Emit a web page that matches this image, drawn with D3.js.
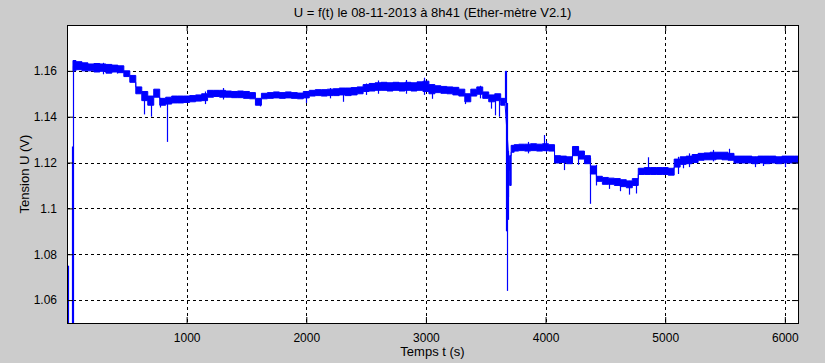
<!DOCTYPE html>
<html>
<head>
<meta charset="utf-8">
<script src="https://cdn.jsdelivr.net/npm/d3@7"></script>
<style>
  body { margin: 0; background: #cccccc; }
  text { font-family: "Liberation Sans", Arial, sans-serif; fill: #000; }
</style>
</head>
<body>
<div id="chart"></div>
<script>
// envelope of the noisy signal (min / max of U every 50 s)
var tBand = [50, 100, 150, 200, 250, 300, 350, 400, 450, 500, 550, 600, 650, 700, 750, 800, 850, 900, 950, 1000,
  1050, 1100, 1150, 1200, 1250, 1300, 1350, 1400, 1450, 1500, 1550, 1600, 1650, 1700, 1750, 1800, 1850, 1900, 1950, 2000,
  2050, 2100, 2150, 2200, 2250, 2300, 2350, 2400, 2450, 2500, 2550, 2600, 2650, 2700, 2750, 2800, 2850, 2900, 2950, 3000,
  3050, 3100, 3150, 3200, 3250, 3300, 3350, 3400, 3450, 3500, 3550, 3600, 3650, 3660];
var uLo = [1.1600, 1.1605, 1.1600, 1.1600, 1.1595, 1.1598, 1.1590, 1.1595, 1.1592, 1.1575, 1.1550, 1.1500, 1.1470, 1.1450, 1.1485, 1.1450, 1.1455, 1.1460, 1.1460, 1.1462,
  1.1465, 1.1468, 1.1470, 1.1485, 1.1488, 1.1485, 1.1485, 1.1483, 1.1483, 1.1480, 1.1478, 1.1450, 1.1478, 1.1480, 1.1482, 1.1480, 1.1482, 1.1480, 1.1478, 1.1482,
  1.1490, 1.1492, 1.1490, 1.1492, 1.1492, 1.1495, 1.1492, 1.1495, 1.1500, 1.1510, 1.1512, 1.1515, 1.1515, 1.1512, 1.1515, 1.1512, 1.1515, 1.1512, 1.1515, 1.1510,
  1.1500, 1.1505, 1.1502, 1.1500, 1.1495, 1.1490, 1.1465, 1.1490, 1.1498, 1.1480, 1.1465, 1.1470, 1.1450, 1.1450];
var uHi = [1.1645, 1.1640, 1.1635, 1.1630, 1.1632, 1.1630, 1.1628, 1.1625, 1.1622, 1.1600, 1.1580, 1.1530, 1.1510, 1.1490, 1.1520, 1.1480, 1.1485, 1.1490, 1.1490, 1.1490,
  1.1492, 1.1495, 1.1500, 1.1515, 1.1515, 1.1515, 1.1512, 1.1510, 1.1512, 1.1510, 1.1505, 1.1480, 1.1502, 1.1505, 1.1508, 1.1505, 1.1508, 1.1505, 1.1503, 1.1510,
  1.1515, 1.1518, 1.1518, 1.1520, 1.1522, 1.1525, 1.1525, 1.1527, 1.1530, 1.1540, 1.1545, 1.1548, 1.1550, 1.1548, 1.1550, 1.1548, 1.1550, 1.1548, 1.1552, 1.1555,
  1.1540, 1.1535, 1.1532, 1.1530, 1.1528, 1.1520, 1.1500, 1.1520, 1.1530, 1.1508, 1.1495, 1.1500, 1.1480, 1.1480];

// after the drop at ~3670 s
var tBand2 = [3700, 3725, 3750, 3800, 3850, 3900, 3950, 4000, 4050, 4100, 4150, 4200, 4250, 4300, 4350, 4400, 4450, 4500, 4550, 4600,
  4650, 4700, 4750, 4800, 4850, 4900, 4950, 5000, 5050, 5100, 5150, 5200, 5250, 5300, 5350, 5400, 5450, 5500, 5550, 5600,
  5650, 5700, 5750, 5800, 5850, 5900, 5950, 6000, 6050, 6110];
var uLo2 = [1.1100, 1.1245, 1.1250, 1.1252, 1.1250, 1.1252, 1.1250, 1.1252, 1.1250, 1.1198, 1.1200, 1.1195, 1.1230, 1.1215, 1.1195, 1.1150, 1.1118, 1.1105, 1.1105, 1.1100,
  1.1095, 1.1090, 1.1100, 1.1148, 1.1148, 1.1148, 1.1148, 1.1148, 1.1145, 1.1180, 1.1192, 1.1195, 1.1200, 1.1210, 1.1212, 1.1212, 1.1215, 1.1212, 1.1210, 1.1198,
  1.1198, 1.1198, 1.1195, 1.1198, 1.1195, 1.1198, 1.1195, 1.1198, 1.1198, 1.1198];
var uHi2 = [1.1230, 1.1275, 1.1278, 1.1280, 1.1280, 1.1282, 1.1280, 1.1282, 1.1278, 1.1230, 1.1228, 1.1225, 1.1270, 1.1250, 1.1230, 1.1185, 1.1140, 1.1135, 1.1132, 1.1130,
  1.1125, 1.1120, 1.1130, 1.1175, 1.1178, 1.1178, 1.1178, 1.1178, 1.1175, 1.1215, 1.1225, 1.1228, 1.1235, 1.1240, 1.1242, 1.1245, 1.1245, 1.1245, 1.1240, 1.1228,
  1.1228, 1.1228, 1.1225, 1.1228, 1.1228, 1.1228, 1.1225, 1.1228, 1.1228, 1.1228];

// isolated spikes and noise peaks: time, min, max
var spikeT  = [5, 40, 50, 300, 420, 640, 700, 780, 833, 1150, 1300, 1610, 2000, 2200, 2310, 2500, 2600, 2830, 2980, 3050, 3330, 3450, 3540,
  3580, 3615, 3663, 3668, 3675, 3682, 3690, 3850, 3990, 4000, 4150, 4270, 4370, 4420, 4530, 4620, 4700, 4760, 4860, 5110, 5150, 5200,
  5400, 5530, 5750, 5820, 6000];
var spikeLo = [1.050, 1.050, 1.050, 1.1585, 1.1588, 1.1410, 1.1400, 1.1440, 1.1290, 1.1455, 1.1475, 1.1445, 1.1460, 1.1480, 1.1465, 1.1495, 1.1500, 1.1500, 1.1495, 1.1478, 1.1455, 1.1480, 1.1435,
  1.1406, 1.1400, 1.1460, 1.0900, 1.0640, 1.0950, 1.1050, 1.1240, 1.1250, 1.1245, 1.1167, 1.1190, 1.1020, 1.1100, 1.1085, 1.1075, 1.1060, 1.1065, 1.1150, 1.1150, 1.1175, 1.1180,
  1.1205, 1.1215, 1.1180, 1.1185, 1.1180];
var spikeHi = [1.075, 1.127, 1.162, 1.1635, 1.1625, 1.1500, 1.1480, 1.1480, 1.1480, 1.1510, 1.1525, 1.1480, 1.1510, 1.1525, 1.1525, 1.1545, 1.1558, 1.1560, 1.1570, 1.1540, 1.1500, 1.1535, 1.1490,
  1.1480, 1.1470, 1.1600, 1.1600, 1.1460, 1.1250, 1.1240, 1.1290, 1.1320, 1.1295, 1.1220, 1.1270, 1.1220, 1.1190, 1.1130, 1.1120, 1.1120, 1.1110, 1.1223, 1.1225, 1.1220, 1.1240,
  1.1255, 1.1260, 1.1225, 1.1225, 1.1225];

var xTicks = [1000, 2000, 3000, 4000, 5000, 6000];
var yTicks = [1.06, 1.08, 1.1, 1.12, 1.14, 1.16];

var W = 825, H = 363;
var margin = {top: 25, right: 27, bottom: 40, left: 67},
  width = W - margin.left - margin.right,
  height = H - margin.top - margin.bottom;

var svg = d3.select("#chart")
  .append("svg")
  .attr("width", W)
  .attr("height", H);

svg.append("rect").attr("width", W).attr("height", H).attr("fill", "#cccccc");

var g = svg.append("g")
  .attr("transform", "translate(" + margin.left + "," + margin.top + ")");

var x = d3.scaleLinear().domain([0, 6110]).range([0, width]);
var y = d3.scaleLinear().domain([1.05, 1.18]).range([height, 0]);

g.append("rect").attr("width", width).attr("height", height).attr("fill", "#fff");

// grid
g.selectAll(".gx").data(xTicks).enter().append("line")
  .attr("x1", d => Math.round(x(d)) + 0.5).attr("x2", d => Math.round(x(d)) + 0.5)
  .attr("y1", 0).attr("y2", height)
  .attr("stroke", "#000").attr("stroke-dasharray", "3,3");
g.selectAll(".gy").data(yTicks).enter().append("line")
  .attr("y1", d => Math.round(y(d)) + 0.5).attr("y2", d => Math.round(y(d)) + 0.5)
  .attr("x1", 0).attr("x2", width)
  .attr("stroke", "#000").attr("stroke-dasharray", "3,3");

g.append("clipPath").attr("id", "clip")
  .append("rect").attr("width", width).attr("height", height);
var plot = g.append("g").attr("clip-path", "url(#clip)");

function band(ts, lo, hi) {
  var pts = ts.map((t, i) => ({t: t, lo: lo[i], hi: hi[i]}));
  var area = d3.area()
    .curve(d3.curveStep)
    .x(d => x(d.t))
    .y0(d => y(d.lo))
    .y1(d => y(d.hi));
  plot.append("path")
    .datum(pts)
    .attr("d", area)
    .attr("fill", "#0000ff")
    .attr("stroke", "#0000ff")
    .attr("stroke-width", 1);
}
band(tBand, uLo, uHi);
band(tBand2, uLo2, uHi2);

// link between the two parts (drop at ~3670 s)
plot.append("line")
  .attr("x1", x(3660)).attr("x2", x(3700))
  .attr("y1", y(1.1465)).attr("y2", y(1.1165))
  .attr("stroke", "#0000ff");

plot.selectAll(".spike").data(spikeT).enter().append("line")
  .attr("x1", d => Math.round(x(d)) + 0.5).attr("x2", d => Math.round(x(d)) + 0.5)
  .attr("y1", (d, i) => y(spikeLo[i])).attr("y2", (d, i) => y(spikeHi[i]))
  .attr("stroke", "#0000ff").attr("stroke-width", 1.2);

// axes, MATLAB style: ticks inside on all four sides
var axB = g.append("g").attr("transform", "translate(0," + height + ")")
  .call(d3.axisBottom(x).tickValues(xTicks).tickSizeInner(-6).tickSizeOuter(0).tickPadding(10).tickFormat(d3.format("d")));
var axT = g.append("g")
  .call(d3.axisTop(x).tickValues(xTicks).tickSizeInner(-6).tickSizeOuter(0).tickFormat(""));
var axL = g.append("g")
  .call(d3.axisLeft(y).tickValues(yTicks).tickSizeInner(-6).tickSizeOuter(0).tickPadding(10).tickFormat(d3.format("")));
var axR = g.append("g").attr("transform", "translate(" + width + ",0)")
  .call(d3.axisRight(y).tickValues(yTicks).tickSizeInner(-6).tickSizeOuter(0).tickFormat(""));

[axB, axT, axL, axR].forEach(a => {
  a.selectAll(".domain").remove();
  a.selectAll("text").style("font-family", "Liberation Sans, Arial, sans-serif").style("font-size", "12px");
});

g.append("rect").attr("x", 0.5).attr("y", 0.5).attr("width", width).attr("height", height)
  .attr("fill", "none").attr("stroke", "#000");

svg.append("text")
  .attr("x", margin.left + width / 2).attr("y", 17)
  .attr("text-anchor", "middle").style("font-size", "13px")
  .text("U = f(t) le 08-11-2013 à 8h41 (Ether-mètre V2.1)");

svg.append("text")
  .attr("x", margin.left + width / 2).attr("y", 356)
  .attr("text-anchor", "middle").style("font-size", "13px")
  .text("Temps t (s)");

svg.append("text")
  .attr("transform", "translate(29," + (margin.top + height / 2) + ") rotate(-90)")
  .attr("text-anchor", "middle").style("font-size", "13px")
  .text("Tension U (V)");
</script>
</body>
</html>
